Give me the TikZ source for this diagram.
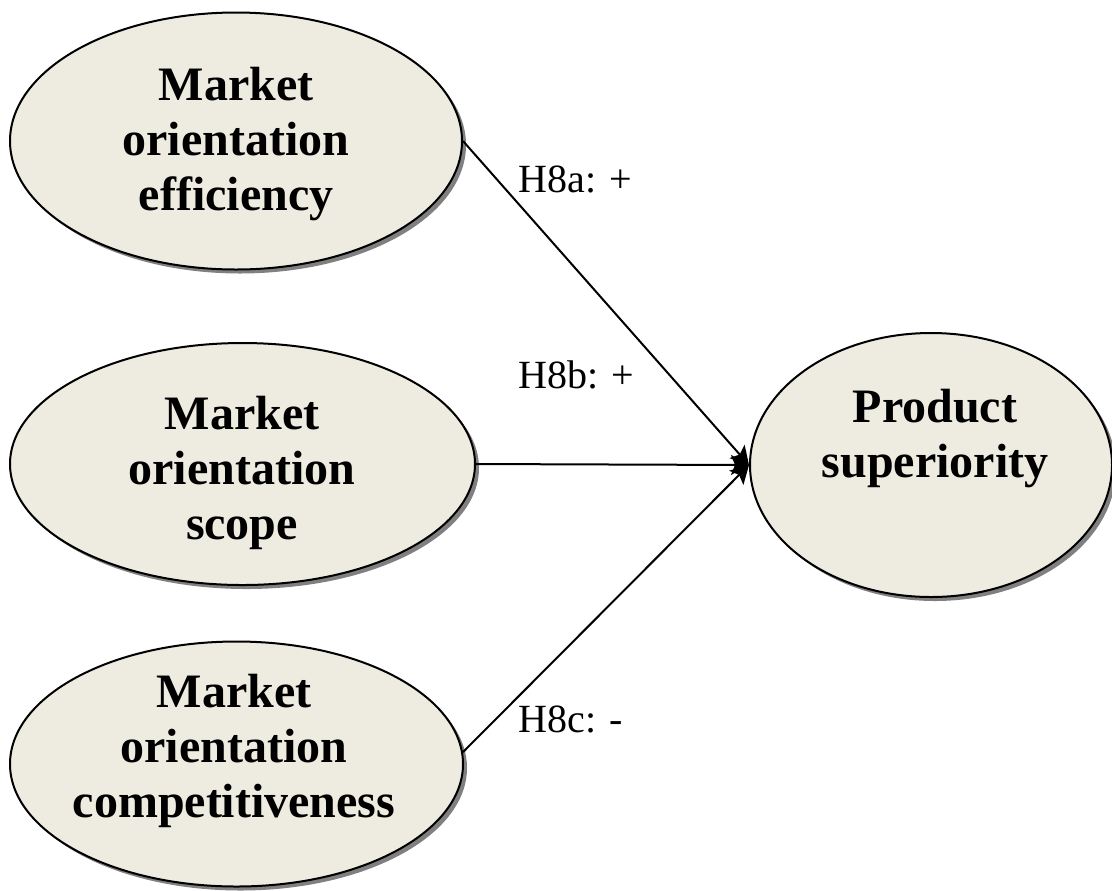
\documentclass[tikz,border=0pt]{standalone}
\usepackage{fontspec}
\setmainfont{Liberation Serif}
\usetikzlibrary{arrows.meta}
\usetikzlibrary{shapes.geometric}
\usetikzlibrary{shadows}
\definecolor{constructfill}{HTML}{EEECE1}
\tikzset{
      construct/.style={ellipse, draw=black, line width=1pt, fill=constructfill, inner sep=0pt,
            drop shadow={shadow xshift=2pt, shadow yshift=-2pt, fill=gray, opacity=1}},
      constructtext/.style={align=center, inner sep=0pt, font=\fontsize{24}{27.5}\selectfont\bfseries},
      hyp/.style={draw=black, line width=1pt, -{Stealth[length=9pt,width=10pt,inset=2pt]}},
      hyplabel/.style={anchor=base west, inner sep=0pt, font=\fontsize{20}{24}\selectfont},
}
\begin{document}
\begin{tikzpicture}[x=0.5pt,y=-0.5pt]
        \useasboundingbox (0,0) rectangle (1112,890);

        % Draw the constructs
        \node[construct, minimum width=226pt, minimum height=128.5pt] (moe) at (236,141) {};
        \node[construct, minimum width=232.5pt, minimum height=121pt] (mos) at (242.5,464) {};
        \node[construct, minimum width=226.5pt, minimum height=122.5pt] (moc) at (236.5,764) {};
        \node[construct, minimum width=181pt, minimum height=132pt] (ps) at (931,465) {};

        \node[constructtext] (moetext) at (236,144) {Market\\orientation\\efficiency};
        \node[constructtext] (mostext) at (242,473) {Market\\orientation\\scope};
        \node[constructtext] (moctext) at (234,751) {Market\\orientation\\competitiveness};
        \node[constructtext] (pstext) at (935,439) {Product\\superiority};

        % Draw the hypotheses
        \draw[hyp] (moe.east) -- (ps.west);
        \draw[hyp] (mos.east) -- (ps.west);
        \draw[hyp] (moc.3) -- (ps.west);

        \node[hyplabel] (h8a) at (518,192) {H8a: +};
        \node[hyplabel] (h8b) at (518,388) {H8b: +};
        \node[hyplabel] (h8c) at (518,732) {H8c: -};

\end{tikzpicture}
\end{document}
